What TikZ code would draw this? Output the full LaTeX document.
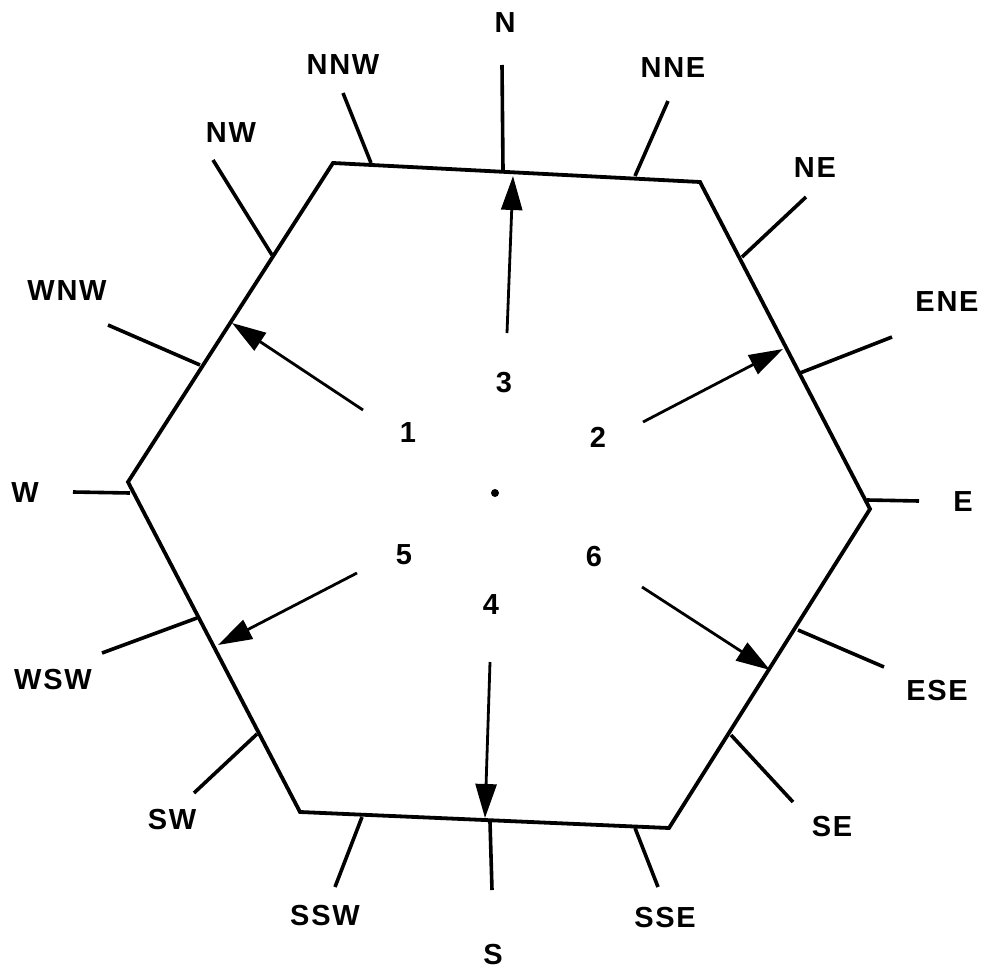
\documentclass[tikz,border=0pt]{standalone}
\usepackage{fontspec}
\setmainfont{Liberation Sans}[LetterSpace=6]
\usetikzlibrary{arrows.meta}
\begin{document}
\begin{tikzpicture}[x=1pt,y=-1pt,
  hexline/.style={line width=3.8pt,line join=miter},
  tick/.style={line width=3.6pt},
  dirarrow/.style={line width=2.8pt,-{Triangle[length=34pt,width=21pt]}},
  lab/.style={font=\fontsize{29}{29}\selectfont\bfseries,inner sep=0pt},
  num/.style={font=\fontsize{29}{29}\selectfont\bfseries,inner sep=0pt}]
\useasboundingbox (0,0) rectangle (982,974);
% hexagon vertices
\coordinate (TL) at (333,163);
\coordinate (TR) at (700,182);
\coordinate (R) at (870,509);
\coordinate (BR) at (669,828);
\coordinate (BL) at (300,812);
\coordinate (L) at (128,482);
\draw[hexline] (TL) -- (TR) -- (R) -- (BR) -- (BL) -- (L) -- cycle;
% tick marks (inner, outer)
\coordinate (Ni) at (503,170);   \coordinate (No) at (502,65);
\coordinate (NNWi) at (371,163); \coordinate (NNWo) at (343,93);
\coordinate (NNEi) at (635,176); \coordinate (NNEo) at (668,101);
\coordinate (NEi) at (742,257);  \coordinate (NEo) at (806,197);
\coordinate (ENEi) at (800,373); \coordinate (ENEo) at (892,337);
\coordinate (Ei) at (867,500);   \coordinate (Eo) at (919,501);
\coordinate (ESEi) at (798,630); \coordinate (ESEo) at (884,667);
\coordinate (SEi) at (731,735);  \coordinate (SEo) at (793,802);
\coordinate (SSEi) at (635,828); \coordinate (SSEo) at (658,887);
\coordinate (Si) at (490,822);   \coordinate (So) at (492,890);
\coordinate (SSWi) at (362,817); \coordinate (SSWo) at (335,887);
\coordinate (SWi) at (257,734);  \coordinate (SWo) at (194,793);
\coordinate (WSWi) at (197,618); \coordinate (WSWo) at (102,653);
\coordinate (Wi) at (130,493);   \coordinate (Wo) at (73,492);
\coordinate (WNWi) at (200,365); \coordinate (WNWo) at (108,325);
\coordinate (NWi) at (272,255);  \coordinate (NWo) at (213,160);
\foreach \d in {N,NNW,NNE,NE,ENE,E,ESE,SE,SSE,S,SSW,SW,WSW,W,WNW,NW}
  \draw[tick] (\d i) -- (\d o);
% labels
\node[lab] (lN) at (505,23) {N};
\node[lab] (lNNW) at (343,65) {NNW};
\node[lab] (lNNE) at (673,68) {NNE};
\node[lab] (lNE) at (815,168) {NE};
\node[lab] (lENE) at (947,302) {ENE};
\node[lab] (lE) at (963,502) {E};
\node[lab] (lESE) at (937,691) {ESE};
\node[lab] (lSE) at (832,827) {SE};
\node[lab] (lSSE) at (665,918) {SSE};
\node[lab] (lS) at (493,955) {S};
\node[lab] (lSSW) at (325,916) {SSW};
\node[lab] (lSW) at (172,820) {SW};
\node[lab] (lWSW) at (53,680) {WSW};
\node[lab] (lW) at (25,493) {W};
\node[lab] (lWNW) at (67,291) {WNW};
\node[lab] (lNW) at (231,133) {NW};
% numbers
\node[num] (n3) at (504,383) {3};
\node[num] (n1) at (408,433) {1};
\node[num] (n2) at (598,437) {2};
\node[num] (n5) at (404,555) {5};
\node[num] (n6) at (594,557) {6};
\node[num] (n4) at (491,605) {4};
\fill (495,493) circle (4pt);
% arrows
\coordinate (a3s) at (507,333); \coordinate (a3t) at (513,176);
\coordinate (a1s) at (363,410); \coordinate (a1t) at (232,323);
\coordinate (a2s) at (643,422); \coordinate (a2t) at (783,349);
\coordinate (a5s) at (357,573); \coordinate (a5t) at (218,645);
\coordinate (a6s) at (642,587); \coordinate (a6t) at (770,670);
\coordinate (a4s) at (490,662); \coordinate (a4t) at (485,818);
\foreach \a in {1,2,3,4,5,6}
  \draw[dirarrow] (a\a s) -- (a\a t);
\end{tikzpicture}
\end{document}
